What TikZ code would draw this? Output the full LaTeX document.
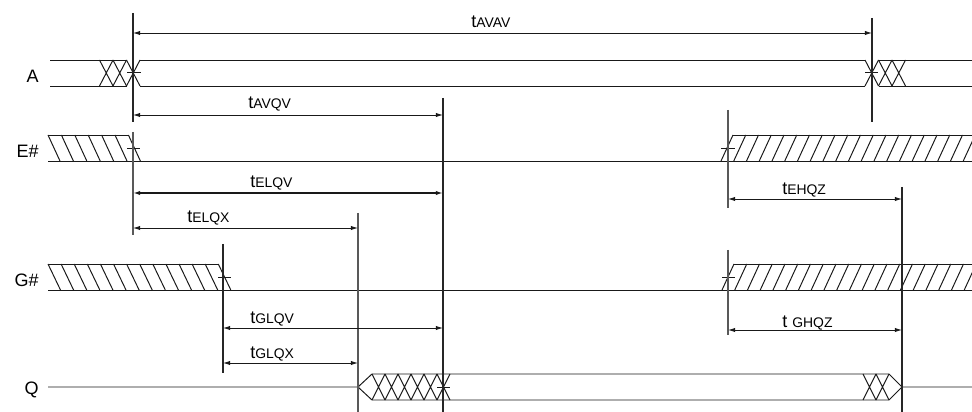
\documentclass[tikz,border=0pt]{standalone}
\usepackage{fontspec}
\setmainfont{Liberation Sans}
\usetikzlibrary{arrows.meta,calc}

\newcommand{\tsub}[1]{t{\fontsize{9.9}{11}\selectfont #1}}

\begin{document}
\begin{tikzpicture}[x=0.025cm,y=-0.025cm,
  sig/.style={line width=0.7pt, black!90},
  guide/.style={line width=0.8pt, black!85},
  tic/.style={line width=0.55pt, black!90},
  dim/.style={{Latex[length=5pt,width=3pt]}-{Latex[length=5pt,width=3pt]}, line width=0.6pt, black!90},
  lbl/.style={anchor=base west, inner sep=0pt, font=\fontsize{12.8}{14}\selectfont},
  sname/.style={anchor=base east, inner sep=0pt, font=\fontsize{12.8}{14}\selectfont}]
\useasboundingbox (0,0) rectangle (972,412);

% timing points
\coordinate (av0) at (133,0);
\coordinate (av1) at (872,0);
\coordinate (gl)  at (223,0);
\coordinate (qx)  at (358,0);
\coordinate (qv)  at (443,0);
\coordinate (eh)  at (728,0);
\coordinate (qz)  at (902,0);

% signal names
\node[sname] (sA) at (39,83)  {A};
\node[sname] (sE) at (39,158) {E\#};
\node[sname] (sG) at (39,287) {G\#};
\node[sname] (sQ) at (39,394) {Q};

% A
\draw[sig] (50,60) -- (126.5,60) (50,86) -- (126.5,86);
\draw[sig] (140,60) -- (865,60) (140,86) -- (865,86);
\draw[sig] (878.5,60) -- (972,60) (878.5,86) -- (972,86);
\foreach \x in {99.5,113,126.5,865,878.5,892}
  \draw[sig] (\x,60) -- ++(13.5,26) (\x,86) -- ++(13.5,-26);
\draw[tic] (127,72) -- (141,72);
\draw[tic] (865,72) -- (878,72);

% E#
\draw[sig] (48,161) -- (972,161);
\draw[sig] (48,135) -- (128.4,135);
\foreach \i in {0,...,6}
  \draw[sig] ({48+13.4*\i},135) -- ++(12,26);
\begin{scope}
\clip (700,120) rectangle (972,170);
\draw[sig] (733,135) -- (972,135);
\foreach \i in {0,...,19}
  \draw[sig] ({721+12.75*\i},161) -- ++(12,-26);
\end{scope}
\draw[tic] (127,148) -- (140,148);
\draw[tic] (721,148) -- (735,148);

% G#
\draw[sig] (48,290) -- (972,290);
\draw[sig] (48,264) -- (218.3,264);
\foreach \i in {0,...,13}
  \draw[sig] ({48+13.1*\i},264) -- ++(12.5,26);
\begin{scope}
\clip (700,250) rectangle (972,300);
\draw[sig] (734,264) -- (972,264);
\foreach \i in {0,...,19}
  \draw[sig] ({722+12.75*\i},290) -- ++(12,-26);
\end{scope}
\draw[tic] (218,277) -- (231,277);
\draw[tic] (722,277) -- (735,277);

% Q
\draw[sig] (48,387) -- (358,387) -- (372,374) -- (889,374) -- (902,387) -- (972,387);
\draw[sig] (358,387) -- (372,400) -- (889,400) -- (902,387);
\foreach \x in {372,385,398,411,424,437,863,876}
  \draw[sig] (\x,374) -- ++(13,26) (\x,400) -- ++(13,-26);
\draw[tic] (437,387) -- (450,387);

% guide lines
\draw[guide] (av0 |- 0,13) -- (av0 |- 0,122);
\draw[guide, black!65] (av0 |- 0,132) -- (av0 |- 0,235);
\draw[guide] (av1 |- 0,18) -- (av1 |- 0,122);
\draw[guide] (qv |- 0,98) -- (qv |- 0,412);
\draw[guide, black!65] (qx |- 0,213) -- (qx |- 0,412);
\draw[guide] (gl |- 0,244) -- (gl |- 0,373);
\draw[guide, black!65] (eh |- 0,110) -- (eh |- 0,208);
\draw[guide, black!65] (eh |- 0,250) -- (eh |- 0,335);
\draw[guide] (qz |- 0,187) -- (qz |- 0,412);

% timings
\draw[dim] (av0 |- 0,33) -- (av1 |- 0,33);
\node[lbl] (tavav) at (471,28) {\tsub{AVAV}};
\draw[dim] (av0 |- 0,115) -- (qv |- 0,115);
\node[lbl] (tavqv) at (248,109) {\tsub{AVQV}};
\draw[dim, line width=1pt] (av0 |- 0,193) -- (qv |- 0,193);
\node[lbl] (telqv) at (250,188) {\tsub{ELQV}};
\draw[dim] (av0 |- 0,228) -- (qx |- 0,228);
\node[lbl] (telqx) at (187,223) {\tsub{ELQX}};
\draw[dim] (eh |- 0,199) -- (qz |- 0,199);
\node[lbl] (tehqz) at (782,195) {\tsub{EHQZ}};
\draw[dim] (gl |- 0,328) -- (qv |- 0,328);
\node[lbl] (tglqv) at (250,323) {\tsub{GLQV}};
\draw[dim] (gl |- 0,363) -- (qx |- 0,363);
\node[lbl] (tglqx) at (250,358) {\tsub{GLQX}};
\draw[dim] (eh |- 0,330) -- (qz |- 0,330);
\node[lbl] (tghqz) at (782,327) {t {\fontsize{9.9}{11}\selectfont GHQZ}};

\end{tikzpicture}
\end{document}
